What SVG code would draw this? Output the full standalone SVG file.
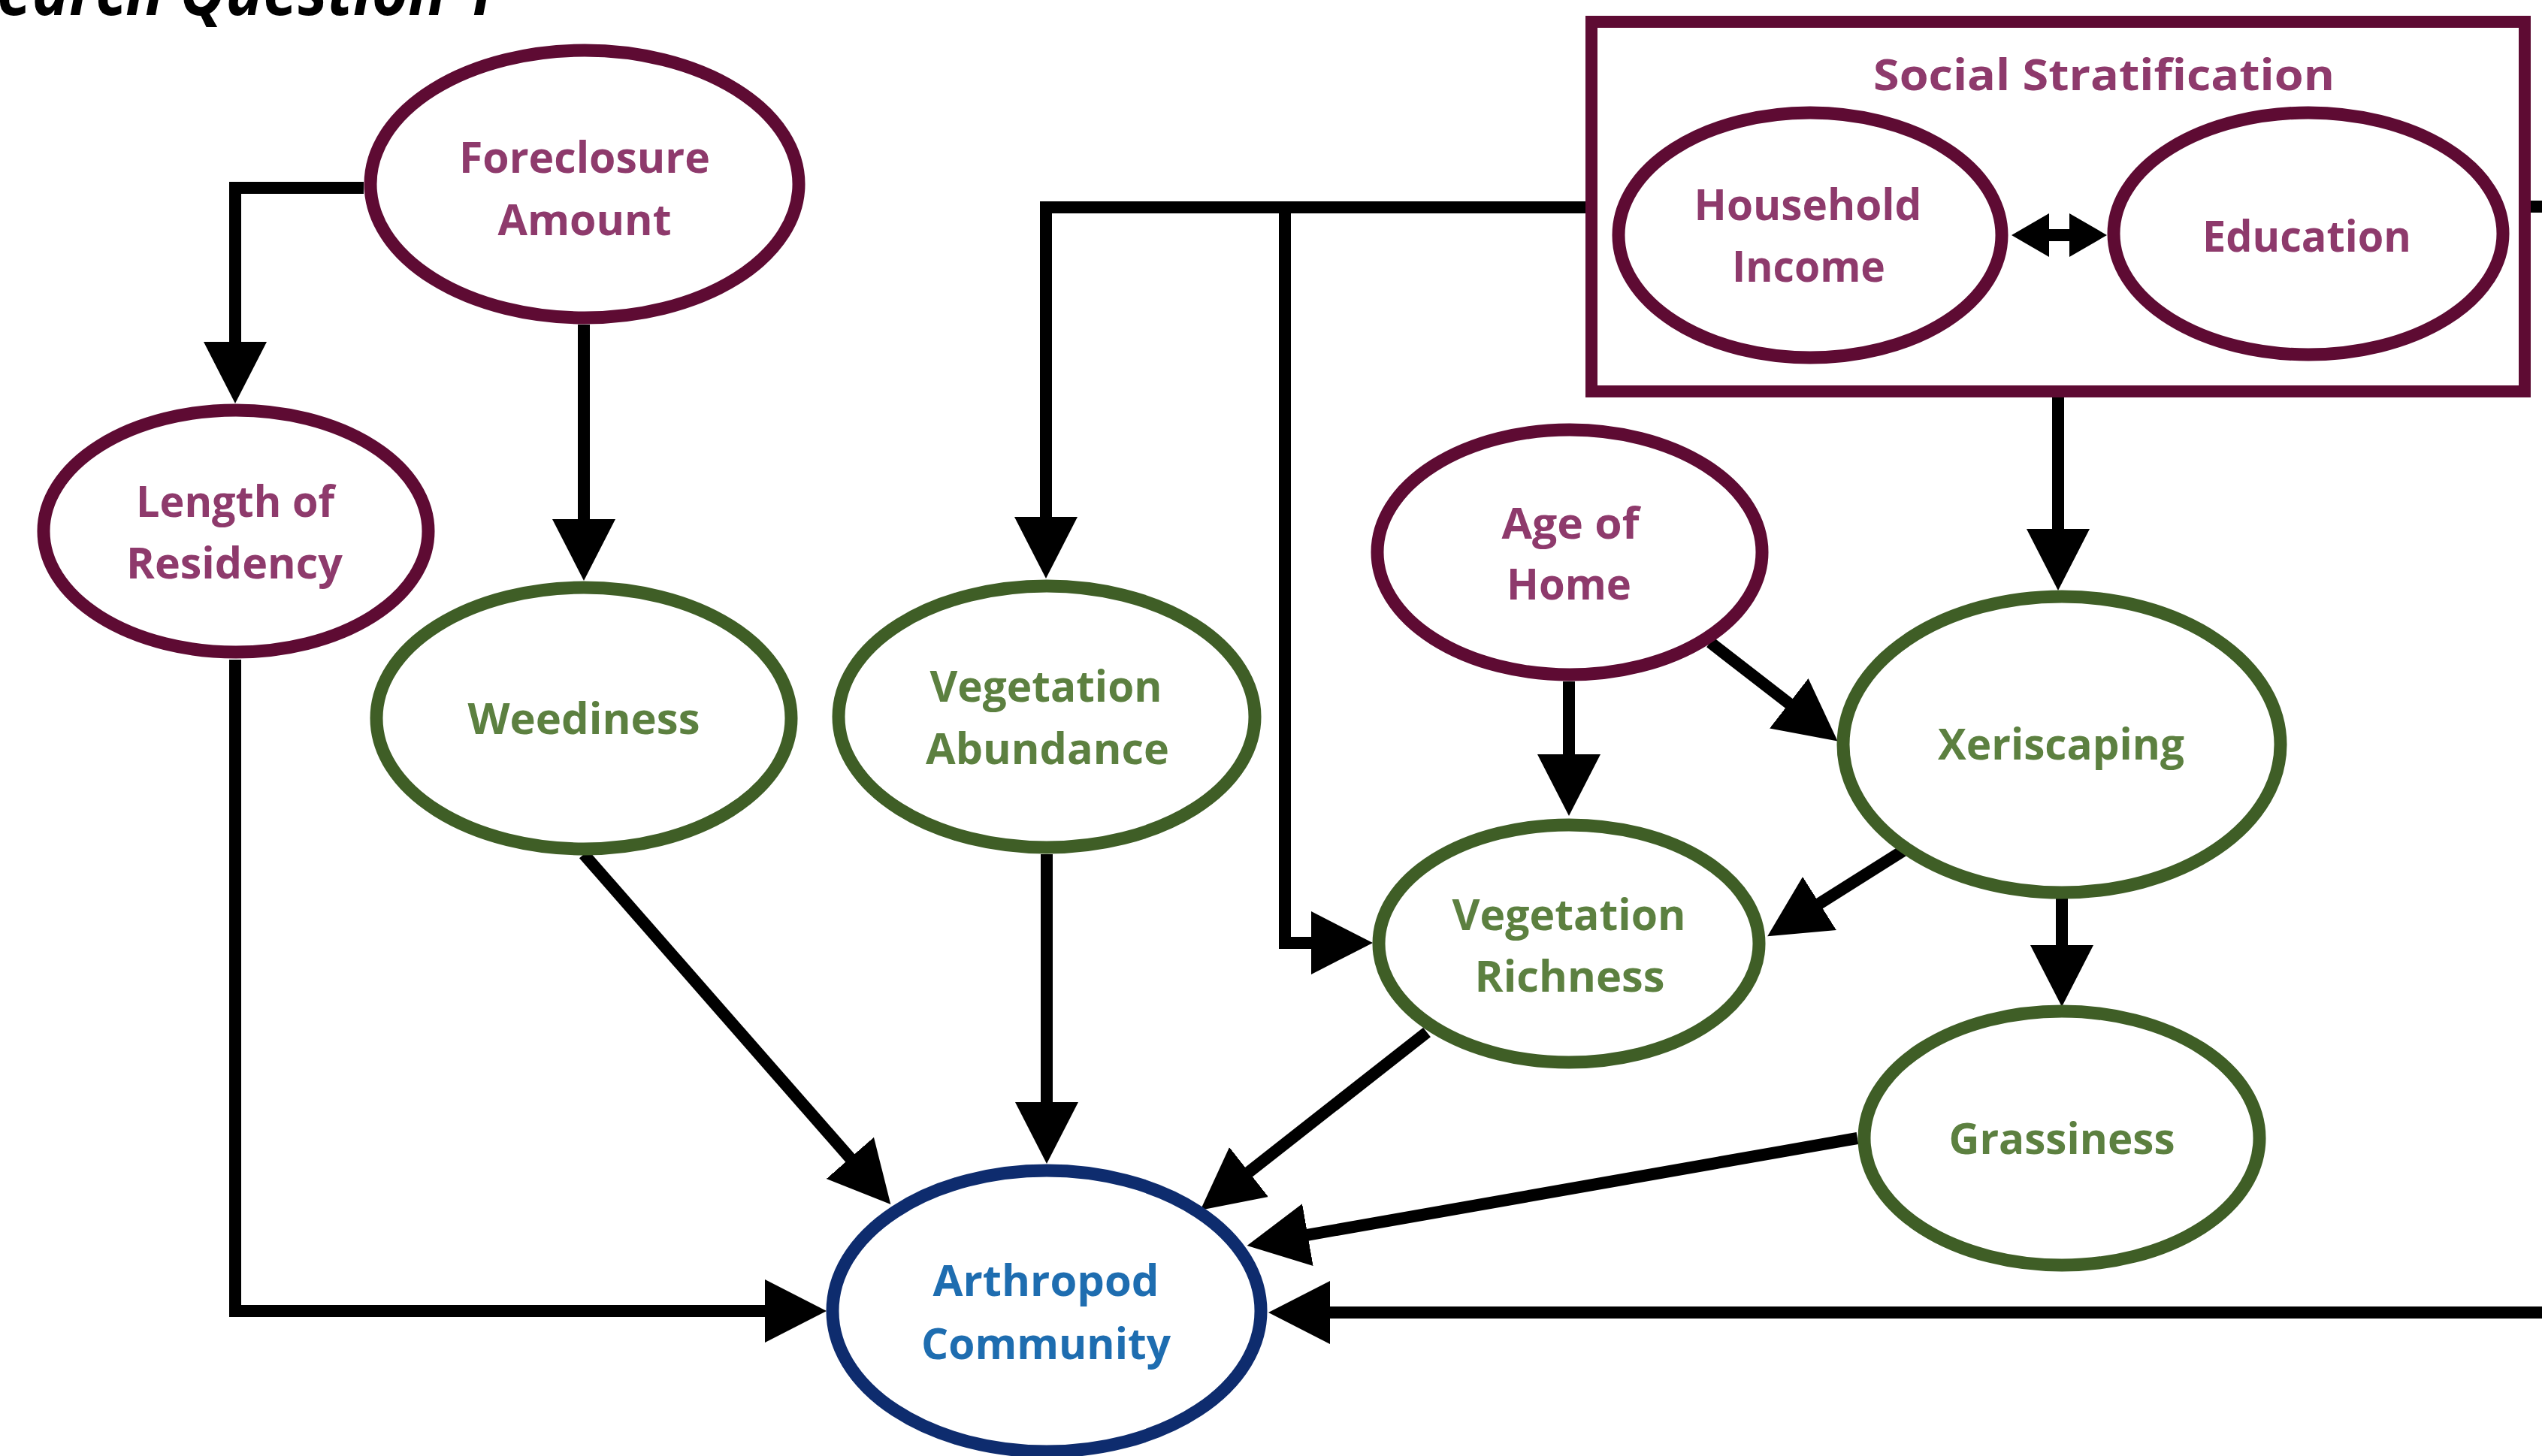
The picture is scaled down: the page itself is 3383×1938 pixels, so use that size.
<svg xmlns="http://www.w3.org/2000/svg" width="3383" height="1938" viewBox="0 0 3383 1938">
<style>
  .bg { fill: #ffffff; }
  .n { fill: #ffffff; stroke-width: 17; }
  .p { stroke: #5E0B33; }
  .g { stroke: #3F5E26; }
  .b { stroke: #0E2C6E; }
  .t { font-family: "Open Sans", "Liberation Sans", sans-serif; font-weight: 700; font-size: 58px; text-anchor: middle; }
  .tp { fill: #8E3A6C; }
  .tg { fill: #5C8040; }
  .tb { fill: #1E6DB0; }
  .c { fill: none; stroke: #000000; stroke-width: 16; stroke-linejoin: miter; stroke-linecap: butt; }
  .title { font-family: "Open Sans", "Liberation Sans", sans-serif; font-weight: 700; font-style: italic; font-size: 94px; fill: #000000; }
</style>
<defs>
  <marker id="arr" markerUnits="userSpaceOnUse" markerWidth="84" markerHeight="86" refX="42" refY="43" orient="auto">
    <path d="M0,1 L82,43 L0,85 Z" fill="#000000"/>
  </marker>
  <marker id="arrS" markerUnits="userSpaceOnUse" markerWidth="52" markerHeight="60" refX="25" refY="30" orient="auto-start-reverse">
    <path d="M0,1 L50,30 L0,59 Z" fill="#000000"/>
  </marker>
</defs>
<rect class="bg" x="0" y="0" width="3383" height="1938"/>

<text class="title" x="-140" y="20" textLength="801" lengthAdjust="spacingAndGlyphs">Research Question 1</text>

<g id="connectors">
  <path class="c" d="M484,250 H313 V497" marker-end="url(#arr)"/>
  <path class="c" d="M777,432 V733" marker-end="url(#arr)"/>
  <path class="c" d="M313,878 V1745 H1060" marker-end="url(#arr)"/>
  <path class="c" d="M777,1137 L1159,1573" marker-end="url(#arr)"/>
  <path class="c" d="M1393,1137 V1509" marker-end="url(#arr)"/>
  <path class="c" d="M2110,276 H1392 V730" marker-end="url(#arr)"/>
  <path class="c" d="M1710,276 V1255 H1787" marker-end="url(#arr)"/>
  <path class="c" d="M3368,275 H3430 V1747 H1728" marker-end="url(#arr)"/>
  <path class="c" d="M2739,529 V746" marker-end="url(#arr)"/>
  <path class="c" d="M2088,907 V1046" marker-end="url(#arr)"/>
  <path class="c" d="M2276,855 L2414,962" marker-end="url(#arr)"/>
  <path class="c" d="M2535,1131 L2386,1225" marker-end="url(#arr)"/>
  <path class="c" d="M2744,1195 V1300" marker-end="url(#arr)"/>
  <path class="c" d="M1899,1374 L1629,1586" marker-end="url(#arr)"/>
  <path class="c" d="M2472,1515 L1699,1651" marker-end="url(#arr)"/>
  <path class="c" d="M2702,313 H2779" marker-start="url(#arrS)" marker-end="url(#arrS)"/>
</g>

<g id="social-stratification">
  <rect x="2118" y="29" width="1242" height="492" fill="none" stroke="#5E0B33" stroke-width="16"/>
  <text class="t tp" x="2800" y="120" font-size="66" textLength="614" lengthAdjust="spacingAndGlyphs">Social Stratification</text>
</g>

<g id="household-income">
  <ellipse class="n p" cx="2409" cy="313" rx="255" ry="163"/>
  <text class="t tp" x="2406" y="293" textLength="303" lengthAdjust="spacingAndGlyphs">Household</text>
  <text class="t tp" x="2407" y="375" textLength="204" lengthAdjust="spacingAndGlyphs">Income</text>
</g>

<g id="education">
  <ellipse class="n p" cx="3072" cy="311" rx="259" ry="161"/>
  <text class="t tp" x="3070" y="335" textLength="278" lengthAdjust="spacingAndGlyphs">Education</text>
</g>

<g id="foreclosure-amount">
  <ellipse class="n p" cx="778" cy="245" rx="285" ry="178"/>
  <text class="t tp" x="778" y="230" textLength="334" lengthAdjust="spacingAndGlyphs">Foreclosure</text>
  <text class="t tp" x="778" y="313" textLength="231" lengthAdjust="spacingAndGlyphs">Amount</text>
</g>

<g id="length-of-residency">
  <ellipse class="n p" cx="314" cy="707" rx="256" ry="161"/>
  <text class="t tp" x="313" y="688" textLength="264" lengthAdjust="spacingAndGlyphs">Length of</text>
  <text class="t tp" x="312" y="770" textLength="288" lengthAdjust="spacingAndGlyphs">Residency</text>
</g>

<g id="weediness">
  <ellipse class="n g" cx="777" cy="956" rx="276" ry="174"/>
  <text class="t tg" x="777" y="977" textLength="309" lengthAdjust="spacingAndGlyphs">Weediness</text>
</g>

<g id="vegetation-abundance">
  <ellipse class="n g" cx="1393" cy="954" rx="277" ry="174"/>
  <text class="t tg" x="1392" y="934" textLength="309" lengthAdjust="spacingAndGlyphs">Vegetation</text>
  <text class="t tg" x="1394" y="1017" textLength="324" lengthAdjust="spacingAndGlyphs">Abundance</text>
</g>

<g id="age-of-home">
  <ellipse class="n p" cx="2089" cy="735" rx="256" ry="163"/>
  <text class="t tp" x="2090" y="717" textLength="183" lengthAdjust="spacingAndGlyphs">Age of</text>
  <text class="t tp" x="2088" y="798" textLength="166" lengthAdjust="spacingAndGlyphs">Home</text>
</g>

<g id="xeriscaping">
  <ellipse class="n g" cx="2744" cy="991" rx="291" ry="197"/>
  <text class="t tg" x="2743" y="1011" textLength="328" lengthAdjust="spacingAndGlyphs">Xeriscaping</text>
</g>

<g id="vegetation-richness">
  <ellipse class="n g" cx="2088" cy="1256" rx="253" ry="158"/>
  <text class="t tg" x="2088" y="1238" textLength="311" lengthAdjust="spacingAndGlyphs">Vegetation</text>
  <text class="t tg" x="2089" y="1320" textLength="253" lengthAdjust="spacingAndGlyphs">Richness</text>
</g>

<g id="grassiness">
  <ellipse class="n g" cx="2744" cy="1515" rx="263" ry="169"/>
  <text class="t tg" x="2744" y="1536" textLength="301" lengthAdjust="spacingAndGlyphs">Grassiness</text>
</g>

<g id="arthropod-community">
  <ellipse class="n b" cx="1393" cy="1745" rx="285" ry="187"/>
  <text class="t tb" x="1392" y="1725" textLength="301" lengthAdjust="spacingAndGlyphs">Arthropod</text>
  <text class="t tb" x="1392" y="1809" textLength="332" lengthAdjust="spacingAndGlyphs">Community</text>
</g>
</svg>
